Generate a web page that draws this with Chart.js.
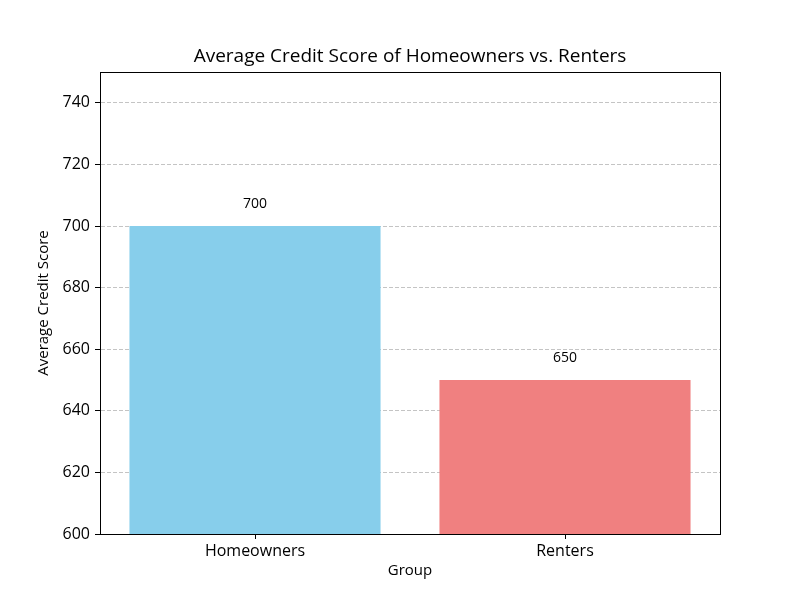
<!DOCTYPE html>
<html>
<head>
<meta charset="utf-8">
<script src="https://cdn.jsdelivr.net/npm/chart.js@4/dist/chart.umd.min.js"></script>
<style>
  html, body { margin: 0; padding: 0; background: #fff; }
  #wrap { width: 800px; height: 600px; }
</style>
</head>
<body>
<div id="wrap"><canvas id="creditChart" width="800" height="600"></canvas></div>
<script>
/* ====== DATA ====== */
const chartTitle = 'Average Credit Score of Homeowners vs. Renters';
const groups = ['Homeowners', 'Renters'];
const avgScores = [700, 650];
const barColors = ['#87CEEB', '#F08080'];
const yTicks = [600, 620, 640, 660, 680, 700, 720, 740];

const FONT = '"Open Sans", "DejaVu Sans", sans-serif';

// box round the plot area + title centred over the plot
const framePlugin = {
  id: 'frame',
  afterDraw(chart) {
    const { ctx, chartArea: a } = chart;
    ctx.save();
    ctx.strokeStyle = '#000';
    ctx.lineWidth = 1;
    ctx.strokeRect(a.left + 0.5, a.top + 0.5, a.right - a.left, a.bottom - a.top);
    ctx.font = '19px ' + FONT;
    ctx.fillStyle = '#000';
    ctx.textAlign = 'center';
    ctx.textBaseline = 'middle';
    ctx.fillText(chartTitle, (a.left + a.right) / 2, a.top - 15);
    ctx.restore();
  }
};

// value labels above each bar
const barLabels = {
  id: 'barLabels',
  afterDatasetsDraw(chart) {
    const { ctx } = chart;
    const yScale = chart.scales.y;
    const meta = chart.getDatasetMeta(0);
    ctx.save();
    ctx.font = '14px ' + FONT;
    ctx.fillStyle = '#000';
    ctx.textAlign = 'center';
    ctx.textBaseline = 'bottom';
    meta.data.forEach((bar, i) => {
      ctx.fillText(String(avgScores[i]), bar.x, yScale.getPixelForValue(avgScores[i] + 5));
    });
    ctx.restore();
  }
};

new Chart(document.getElementById('creditChart').getContext('2d'), {
  type: 'bar',
  data: {
    labels: groups,
    datasets: [{
      label: 'Average Credit Score',
      data: avgScores,
      backgroundColor: barColors,
      borderWidth: 0,
      barPercentage: 0.81,
      categoryPercentage: 1.0
    }]
  },
  options: {
    responsive: false,
    animation: false,
    layout: { padding: { left: 0, right: 80, top: 72, bottom: 0 } },
    plugins: {
      legend: { display: false },
      tooltip: { enabled: false },
      title: { display: false }
    },
    scales: {
      x: {
        offset: true,
        afterFit(scale) { scale.height = 66; },
        grid: { display: true, drawOnChartArea: false, offset: false, tickLength: 5, tickColor: '#000' },
        border: { display: true, color: '#000' },
        ticks: { color: '#000', padding: 3, font: { family: FONT, size: 16 } },
        title: {
          display: true, text: 'Group', color: '#000',
          font: { family: FONT, size: 15 },
          padding: { top: 0, bottom: 20 }
        }
      },
      y: {
        min: 600,
        max: 750,
        afterFit(scale) { scale.width = 100; },
        afterBuildTicks(scale) { scale.ticks = yTicks.map(v => ({ value: v })); },
        grid: {
          color: 'rgba(190,190,190,0.9)',
          tickColor: '#000',
          tickBorderDash: [],
          tickLength: 5
        },
        border: { display: true, color: '#000', dash: [4, 2] },
        ticks: { stepSize: 20, includeBounds: false, color: '#000', padding: 5, font: { family: FONT, size: 16 } },
        title: {
          display: true, text: 'Average Credit Score', color: '#000',
          font: { family: FONT, size: 15 },
          padding: { top: 35, bottom: 0 }
        }
      }
    }
  },
  plugins: [framePlugin, barLabels]
});
</script>
</body>
</html>
